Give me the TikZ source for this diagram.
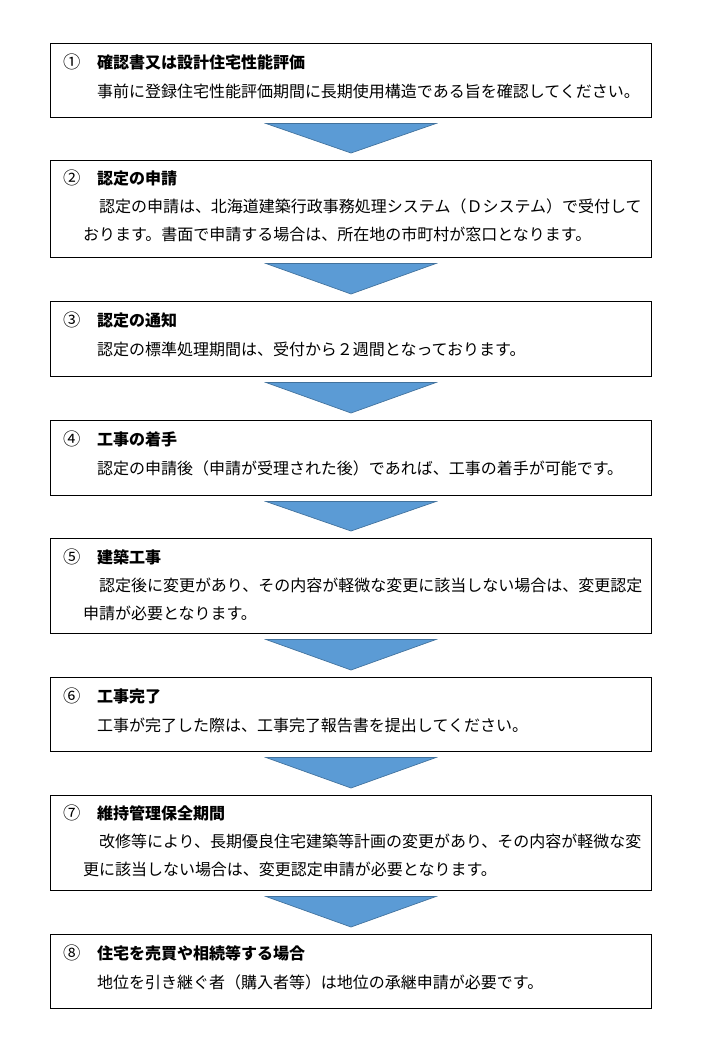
\documentclass[tikz,border=0pt]{standalone}
\usepackage{fontspec}
\setmainfont{Noto Sans CJK JP}
\usetikzlibrary{calc}
\definecolor{arrowfill}{HTML}{5B9BD5}
\definecolor{arrowline}{HTML}{41719C}
\begin{document}
\begin{tikzpicture}[x=0.75pt,y=-0.75pt,
  every node/.style={font=\fontsize{12pt}{16pt}\selectfont, inner sep=0pt, outer sep=0pt},
  box/.style={draw=black, line width=0.75pt, minimum width=450.75pt},
  num/.style={anchor=center, text height=11.44pt, text depth=1.56pt, font=\fontsize{13pt}{16pt}\selectfont},
  ttl/.style={anchor=west, text height=10.56pt, text depth=1.44pt, font=\fontsize{12pt}{16pt}\selectfont\bfseries},
  txt/.style={anchor=west, text height=10.56pt, text depth=1.44pt},
  arr/.style={fill=arrowfill, draw=arrowline, line width=0.5pt, line join=miter}]
\fill[white] (0,0) rectangle (720,1040);
\useasboundingbox (0,0) rectangle (720,1040);

% boxes
\node[box, minimum height=55.5pt]  (b1) at (351,80) {};
\node[box, minimum height=72.75pt] (b2) at (351,208.5) {};
\node[box, minimum height=56.25pt] (b3) at (351,338.5) {};
\node[box, minimum height=56.25pt] (b4) at (351,457.5) {};
\node[box, minimum height=71.25pt] (b5) at (351,585.5) {};
\node[box, minimum height=55.5pt]  (b6) at (351,714) {};
\node[box, minimum height=71.25pt] (b7) at (351,842.5) {};
\node[box, minimum height=55.5pt]  (b8) at (351,971) {};

% arrows
\foreach \a/\b in {b1/b2,b2/b3,b3/b4,b4/b5,b5/b6,b6/b7,b7/b8}
  \filldraw[arr] ($(\a.south)+(-85,6.5)$) -- ($(\a.south)+(85,6.5)$) -- ($(\b.north)+(0,-7)$) -- cycle;

% 1
\node[num] (n1) at (72.5,62) {①};
\node[ttl] (t1) at (97,62) {確認書又は設計住宅性能評価};
\node[txt] (d1) at (97,91) {事前に登録住宅性能評価期間に長期使用構造である旨を確認してください。};
% 2
\node[num] (n2) at (72.5,178) {②};
\node[ttl] (t2) at (97,178) {認定の申請};
\node[txt] (d2a) at (83,206) {　認定の申請は、北海道建築行政事務処理システム（Ｄシステム）で受付して};
\node[txt] (d2b) at (83,234) {おります。書面で申請する場合は、所在地の市町村が窓口となります。};
% 3
\node[num] (n3) at (72.5,320) {③};
\node[ttl] (t3) at (97,320) {認定の通知};
\node[txt] (d3) at (97,349) {認定の標準処理期間は、受付から２週間となっております。};
% 4
\node[num] (n4) at (72.5,439) {④};
\node[ttl] (t4) at (97,439) {工事の着手};
\node[txt] (d4) at (97,468) {認定の申請後（申請が受理された後）であれば、工事の着手が可能です。};
% 5
\node[num] (n5) at (72.5,557) {⑤};
\node[ttl] (t5) at (97,557) {建築工事};
\node[txt] (d5a) at (83,585) {　認定後に変更があり、その内容が軽微な変更に該当しない場合は、変更認定};
\node[txt] (d5b) at (83,613) {申請が必要となります。};
% 6
\node[num] (n6) at (72.5,696) {⑥};
\node[ttl] (t6) at (97,696) {工事完了};
\node[txt] (d6) at (97,725) {工事が完了した際は、工事完了報告書を提出してください。};
% 7
\node[num] (n7) at (72.5,813) {⑦};
\node[ttl] (t7) at (97,813) {維持管理保全期間};
\node[txt] (d7a) at (83,841) {　改修等により、長期優良住宅建築等計画の変更があり、その内容が軽微な変};
\node[txt] (d7b) at (83,869) {更に該当しない場合は、変更認定申請が必要となります。};
% 8
\node[num] (n8) at (72.5,953) {⑧};
\node[ttl] (t8) at (97,953) {住宅を売買や相続等する場合};
\node[txt] (d8) at (97,982) {地位を引き継ぐ者（購入者等）は地位の承継申請が必要です。};
\end{tikzpicture}
\end{document}
